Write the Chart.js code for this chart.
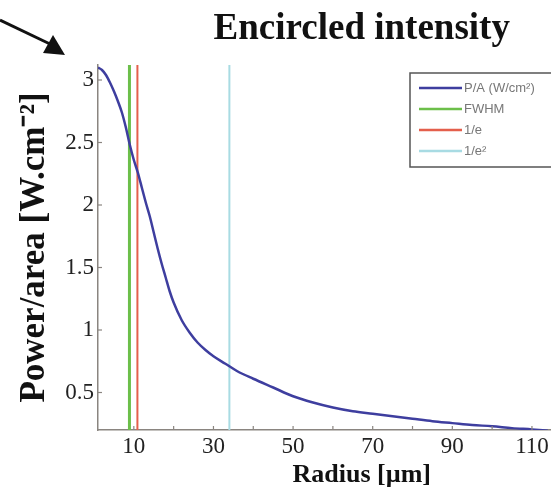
<!DOCTYPE html>
<html><head><meta charset="utf-8">
<script src="https://cdn.jsdelivr.net/npm/chart.js@4.4.1/dist/chart.umd.min.js"></script>
<style>html,body{margin:0;padding:0;background:#fff;overflow:hidden;width:551px;height:499px}</style>
</head><body>
<canvas id="c" width="632" height="499"></canvas>
<script>
// ---- data ----
const chartTitle = 'Encircled intensity';
const xTitle = 'Radius [µm]';
const yTitle = 'Power/area [W.cm⁻²]';
const curveLabel = 'P/A (W/cm²)';
const radius = [1,2,3,4,5,6,7,8,9,10,11,12,13,14,15,16,17,18,19,20,22,24,26,28,30,33,36,40,45,50,55,60,65,70,75,80,85,90,95,100,105,110,114];
const powerArea = [3.10,3.08,3.04,2.98,2.91,2.83,2.74,2.62,2.48,2.36,2.26,2.14,2.02,1.91,1.78,1.65,1.53,1.42,1.31,1.22,1.08,0.98,0.90,0.84,0.79,0.73,0.67,0.61,0.54,0.47,0.42,0.38,0.35,0.33,0.31,0.29,0.27,0.255,0.24,0.23,0.215,0.205,0.195];
const markerLabels = ['FWHM','1/e','1/e²'];
const markerRadii = [8.9, 10.9, 34];
const xTickValues = [10,20,30,40,50,60,70,80,90,100,110,120,130];
const xLabeledTicks = [10,30,50,70,90,110,130];
const yTickValues = [0.5,1,1.5,2,2.5,3];
const xMin = 1, xMax = 133.5, yMin = 0.2, yMax = 3.12;

// ---- styles ----
const curveColor = '#3e3e9f';
const markerColors = ['#6cbf4a','#e45f4c','#a8dbe3'];
const markerWidths = [3, 2, 2];
const axisColor = '#8a8580';

const datasets = [];
markerRadii.forEach((r, i) => {
  datasets.push({
    label: markerLabels[i],
    data: [{x: r, y: yMin}, {x: r, y: yMax}],
    borderColor: markerColors[i],
    borderWidth: markerWidths[i],
    pointRadius: 0,
    order: 2
  });
});
datasets.push({
  label: curveLabel,
  data: radius.map((r, i) => ({x: r, y: powerArea[i]})),
  borderColor: curveColor,
  borderWidth: 2.5,
  pointRadius: 0,
  cubicInterpolationMode: 'monotone',
  order: 1
});

const decorPlugin = {
  id: 'decor',
  afterDraw(chart) {
    const ctx = chart.ctx;
    const xs = chart.scales.x, ys = chart.scales.y;
    const area = chart.chartArea;
    ctx.save();
    // inward tick marks
    ctx.strokeStyle = axisColor; ctx.lineWidth = 1.2;
    xs.ticks.forEach(t => {
      const px = xs.getPixelForValue(t.value);
      ctx.beginPath(); ctx.moveTo(px, area.bottom); ctx.lineTo(px, area.bottom - 4); ctx.stroke();
    });
    ys.ticks.forEach(t => {
      const py = ys.getPixelForValue(t.value);
      ctx.beginPath(); ctx.moveTo(area.left, py); ctx.lineTo(area.left + 4, py); ctx.stroke();
    });
    // legend box
    const lx = 410, ly = 73, lw = 170, lh = 94;
    ctx.fillStyle = '#fff'; ctx.fillRect(lx, ly, lw, lh);
    ctx.strokeStyle = '#555'; ctx.lineWidth = 1.5; ctx.strokeRect(lx, ly, lw, lh);
    const order = [3, 0, 1, 2];
    ctx.font = '13px "Liberation Sans", Arial, sans-serif';
    ctx.textBaseline = 'middle'; ctx.textAlign = 'left';
    order.forEach((di, row) => {
      const ds = chart.data.datasets[di];
      const y = 88 + row * 21;
      ctx.strokeStyle = ds.borderColor; ctx.lineWidth = 2.5;
      ctx.beginPath(); ctx.moveTo(419, y); ctx.lineTo(462, y); ctx.stroke();
      ctx.fillStyle = '#777';
      ctx.fillText(ds.label, 464, y);
    });
    // arrow decoration
    ctx.strokeStyle = '#111'; ctx.fillStyle = '#111'; ctx.lineWidth = 3;
    ctx.beginPath(); ctx.moveTo(0, 20); ctx.lineTo(50, 44); ctx.stroke();
    ctx.beginPath(); ctx.moveTo(65, 55); ctx.lineTo(53, 35); ctx.lineTo(43, 53); ctx.closePath(); ctx.fill();
    ctx.restore();
  }
};

new Chart(document.getElementById('c'), {
  type: 'line',
  data: { datasets },
  plugins: [decorPlugin],
  options: {
    responsive: false,
    animation: false,
    layout: { padding: { left: 0, right: 4, top: 0, bottom: 0 } },
    plugins: {
      legend: { display: false },
      tooltip: { enabled: false },
      title: {
        display: true, text: chartTitle, fullSize: false,
        color: '#111',
        font: { family: '"Liberation Serif", "Times New Roman", serif', size: 37, weight: 'bold' },
        padding: { top: 7, bottom: 13.6 }
      }
    },
    scales: {
      x: {
        type: 'linear', min: xMin, max: xMax,
        afterBuildTicks: s => { s.ticks = xTickValues.map(v => ({value: v})); },
        afterFit: s => { s.height = 69; },
        grid: { drawOnChartArea: false, drawTicks: false },
        border: { color: axisColor, width: 1.5 },
        ticks: {
          padding: 3, color: '#222', maxRotation: 0, autoSkip: false,
          font: { family: '"Liberation Serif", "Times New Roman", serif', size: 23 },
          callback: v => xLabeledTicks.includes(v) ? String(v) : ''
        },
        title: {
          display: true, text: xTitle, color: '#111',
          font: { family: '"Liberation Serif", "Times New Roman", serif', size: 26, weight: 'bold' },
          padding: { top: 0, bottom: 8 }
        }
      },
      y: {
        type: 'linear', min: yMin, max: yMax,
        afterBuildTicks: s => { s.ticks = yTickValues.map(v => ({value: v})); },
        afterFit: s => { s.width = 98; },
        grid: { drawOnChartArea: false, drawTicks: false },
        border: { color: axisColor, width: 1.5 },
        ticks: {
          padding: 4, color: '#222', autoSkip: false,
          font: { family: '"Liberation Serif", "Times New Roman", serif', size: 23 },
          callback: v => String(v)
        },
        title: {
          display: true, text: yTitle, color: '#111',
          font: { family: '"Liberation Serif", "Times New Roman", serif', size: 35, weight: 'bold' },
          padding: { top: 14, bottom: 0 }
        }
      }
    }
  }
});
</script>
</body></html>
